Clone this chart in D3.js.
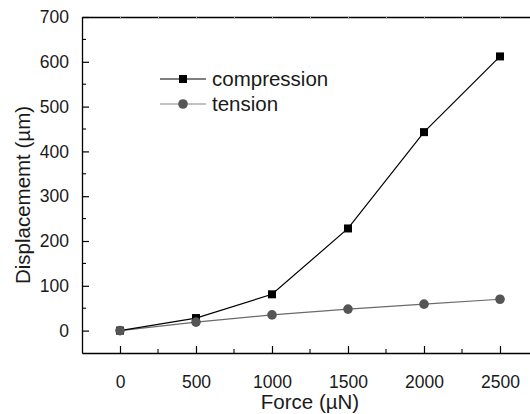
<!DOCTYPE html>
<html>
<head>
<meta charset="utf-8">
<script src="https://cdn.jsdelivr.net/npm/d3@7"></script>
<style>
  body { margin: 0; background: #fff; }
  text { font-family: "Liberation Sans", Arial, sans-serif; fill: #1a1a1a; }
</style>
</head>
<body>
<div id="chart"></div>
<script>
// data
const forces = [0, 500, 1000, 1500, 2000, 2500];
const compression = [0, 28, 81, 228, 443, 612];
const tension = [0, 19, 35, 48, 59, 70];
const xTicks = [0, 500, 1000, 1500, 2000, 2500];
const yTicks = [0, 100, 200, 300, 400, 500, 600, 700];

const width = 530, height = 414;
const margin = {top: 17, left: 82, right: -8, bottom: 61};

const svg = d3.select("#chart").append("svg")
    .attr("width", width)
    .attr("height", height);

const x = d3.scaleLinear().domain([-250, 2750])
    .range([margin.left, width - margin.right]);
const y = d3.scaleLinear().domain([-50, 700])
    .range([height - margin.bottom, margin.top]);

// minor ticks between the majors
const xMinor = d3.range(250, 2750, 500);
const yMinor = d3.range(50, 700, 100);

// bottom axis, ticks pointing in
const xAxis = svg.append("g")
    .attr("transform", `translate(0,${y(-50)})`)
    .call(d3.axisBottom(x).tickValues(xTicks).tickFormat(d3.format("d"))
        .tickSizeInner(-7).tickSizeOuter(0).tickPadding(23));
xAxis.select(".domain").attr("stroke", "#000").attr("stroke-width", 1.3);
xAxis.selectAll(".tick line").attr("stroke", "#000").attr("stroke-width", 1.2);
xAxis.selectAll("text").attr("font-size", 17.5).attr("font-family", "Liberation Sans, Arial, sans-serif").attr("fill", "#1a1a1a");
xAxis.append("g").selectAll("line").data(xMinor).enter().append("line")
    .attr("x1", d => x(d)).attr("x2", d => x(d))
    .attr("y1", 0).attr("y2", -4)
    .attr("stroke", "#000").attr("stroke-width", 1.1);

// left axis
const yAxis = svg.append("g")
    .attr("transform", `translate(${x(-250)},0)`)
    .call(d3.axisLeft(y).tickValues(yTicks).tickFormat(d3.format("d"))
        .tickSizeInner(-7).tickSizeOuter(0).tickPadding(13));
yAxis.select(".domain").attr("stroke", "#000").attr("stroke-width", 1.3);
yAxis.selectAll(".tick line").attr("stroke", "#000").attr("stroke-width", 1.2);
yAxis.selectAll("text").attr("font-size", 17.5).attr("font-family", "Liberation Sans, Arial, sans-serif").attr("fill", "#1a1a1a");
yAxis.append("g").selectAll("line").data(yMinor).enter().append("line")
    .attr("y1", d => y(d)).attr("y2", d => y(d))
    .attr("x1", 0).attr("x2", 4)
    .attr("stroke", "#000").attr("stroke-width", 1.1);

// top and right frame
const topAxis = svg.append("g")
    .attr("transform", `translate(0,${y(700)})`)
    .call(d3.axisTop(x).tickValues(xTicks.concat(xMinor)).tickSizeInner(-2).tickSizeOuter(0).tickFormat(""));
topAxis.select(".domain").attr("stroke", "#000").attr("stroke-width", 1.3);
topAxis.selectAll(".tick line").attr("stroke", "#aaa");
svg.append("line")
    .attr("x1", x(2750)).attr("x2", x(2750))
    .attr("y1", y(700)).attr("y2", y(-50))
    .attr("stroke", "#000").attr("stroke-width", 1.3);

// series
const line = d3.line()
    .x((d, i) => x(forces[i]))
    .y(d => y(d));

svg.append("path")
    .datum(tension)
    .attr("fill", "none")
    .attr("stroke", "#6a6a6a")
    .attr("stroke-width", 1.2)
    .attr("d", line);

svg.append("path")
    .datum(compression)
    .attr("fill", "none")
    .attr("stroke", "#000")
    .attr("stroke-width", 1.2)
    .attr("d", line);

svg.selectAll(".sq")
    .data(compression)
    .enter()
    .append("rect")
        .attr("class", "sq")
        .attr("x", (d, i) => x(forces[i]) - 4)
        .attr("y", d => y(d) - 4)
        .attr("width", 8)
        .attr("height", 8)
        .attr("fill", "#000");

svg.selectAll(".dot")
    .data(tension)
    .enter()
    .append("circle")
        .attr("class", "dot")
        .attr("cx", (d, i) => x(forces[i]))
        .attr("cy", d => y(d))
        .attr("r", 4.8)
        .attr("fill", "#555");

// legend
const legend = svg.append("g").attr("transform", "translate(160,79)");
legend.append("line").attr("x1", 0).attr("x2", 46).attr("y1", 0).attr("y2", 0)
    .attr("stroke", "#000").attr("stroke-width", 1.2);
legend.append("rect").attr("x", 19).attr("y", -4).attr("width", 8).attr("height", 8).attr("fill", "#000");
legend.append("text").attr("x", 52).attr("y", 7).attr("font-size", 20.5).text("compression");

legend.append("line").attr("x1", 0).attr("x2", 46).attr("y1", 25).attr("y2", 25)
    .attr("stroke", "#888").attr("stroke-width", 1.2);
legend.append("circle").attr("cx", 23).attr("cy", 25).attr("r", 4.8).attr("fill", "#555");
legend.append("text").attr("x", 52).attr("y", 32).attr("font-size", 20.5).text("tension");

// axis titles
svg.append("text")
    .attr("x", x(1250))
    .attr("y", 409)
    .attr("text-anchor", "middle")
    .attr("font-size", 20.5)
    .text("Force (\u00b5N)");

svg.append("text")
    .attr("transform", "rotate(-90)")
    .attr("x", -195)
    .attr("y", 30)
    .attr("text-anchor", "middle")
    .attr("font-size", 20.5)
    .text("Displacememt (\u00b5m)");
</script>
</body>
</html>
